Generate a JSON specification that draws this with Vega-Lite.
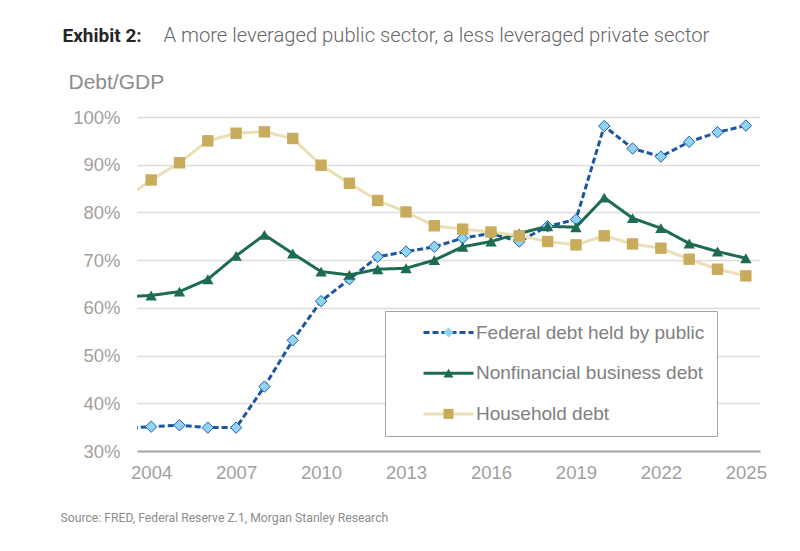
{
  "$schema": "https://vega.github.io/schema/vega-lite/v6.json",
  "width": 623,
  "height": 334,
  "autosize": {"type": "none"},
  "padding": {"left": 137, "top": 117, "right": 40, "bottom": 100},
  "background": "white",
  "config": {"view": {"stroke": null}, "font": "Liberation Sans"},
  "data": {
    "values": [
      {"year": 2003, "series": "Federal debt held by public", "value": 34.7},
      {"year": 2004, "series": "Federal debt held by public", "value": 35.1},
      {"year": 2005, "series": "Federal debt held by public", "value": 35.4},
      {"year": 2006, "series": "Federal debt held by public", "value": 34.9},
      {"year": 2007, "series": "Federal debt held by public", "value": 34.9},
      {"year": 2008, "series": "Federal debt held by public", "value": 43.5},
      {"year": 2009, "series": "Federal debt held by public", "value": 53.2},
      {"year": 2010, "series": "Federal debt held by public", "value": 61.4},
      {"year": 2011, "series": "Federal debt held by public", "value": 66.0},
      {"year": 2012, "series": "Federal debt held by public", "value": 70.7},
      {"year": 2013, "series": "Federal debt held by public", "value": 71.8},
      {"year": 2014, "series": "Federal debt held by public", "value": 72.8},
      {"year": 2015, "series": "Federal debt held by public", "value": 74.6},
      {"year": 2016, "series": "Federal debt held by public", "value": 75.6},
      {"year": 2017, "series": "Federal debt held by public", "value": 73.9},
      {"year": 2018, "series": "Federal debt held by public", "value": 77.1},
      {"year": 2019, "series": "Federal debt held by public", "value": 78.5},
      {"year": 2020, "series": "Federal debt held by public", "value": 98.1},
      {"year": 2021, "series": "Federal debt held by public", "value": 93.4},
      {"year": 2022, "series": "Federal debt held by public", "value": 91.7},
      {"year": 2023, "series": "Federal debt held by public", "value": 94.8},
      {"year": 2024, "series": "Federal debt held by public", "value": 96.8},
      {"year": 2025, "series": "Federal debt held by public", "value": 98.2},
      {"year": 2003, "series": "Nonfinancial business debt", "value": 62.3},
      {"year": 2004, "series": "Nonfinancial business debt", "value": 62.6},
      {"year": 2005, "series": "Nonfinancial business debt", "value": 63.4},
      {"year": 2006, "series": "Nonfinancial business debt", "value": 66.0},
      {"year": 2007, "series": "Nonfinancial business debt", "value": 70.9},
      {"year": 2008, "series": "Nonfinancial business debt", "value": 75.3},
      {"year": 2009, "series": "Nonfinancial business debt", "value": 71.4},
      {"year": 2010, "series": "Nonfinancial business debt", "value": 67.6},
      {"year": 2011, "series": "Nonfinancial business debt", "value": 66.9},
      {"year": 2012, "series": "Nonfinancial business debt", "value": 68.1},
      {"year": 2013, "series": "Nonfinancial business debt", "value": 68.3},
      {"year": 2014, "series": "Nonfinancial business debt", "value": 70.0},
      {"year": 2015, "series": "Nonfinancial business debt", "value": 72.8},
      {"year": 2016, "series": "Nonfinancial business debt", "value": 73.9},
      {"year": 2017, "series": "Nonfinancial business debt", "value": 75.6},
      {"year": 2018, "series": "Nonfinancial business debt", "value": 77.1},
      {"year": 2019, "series": "Nonfinancial business debt", "value": 76.9},
      {"year": 2020, "series": "Nonfinancial business debt", "value": 83.1},
      {"year": 2021, "series": "Nonfinancial business debt", "value": 78.8},
      {"year": 2022, "series": "Nonfinancial business debt", "value": 76.7},
      {"year": 2023, "series": "Nonfinancial business debt", "value": 73.5},
      {"year": 2024, "series": "Nonfinancial business debt", "value": 71.8},
      {"year": 2025, "series": "Nonfinancial business debt", "value": 70.4},
      {"year": 2003, "series": "Household debt", "value": 82.6},
      {"year": 2004, "series": "Household debt", "value": 86.8},
      {"year": 2005, "series": "Household debt", "value": 90.4},
      {"year": 2006, "series": "Household debt", "value": 95.0},
      {"year": 2007, "series": "Household debt", "value": 96.6},
      {"year": 2008, "series": "Household debt", "value": 96.9},
      {"year": 2009, "series": "Household debt", "value": 95.5},
      {"year": 2010, "series": "Household debt", "value": 89.9},
      {"year": 2011, "series": "Household debt", "value": 86.1},
      {"year": 2012, "series": "Household debt", "value": 82.5},
      {"year": 2013, "series": "Household debt", "value": 80.1},
      {"year": 2014, "series": "Household debt", "value": 77.2},
      {"year": 2015, "series": "Household debt", "value": 76.5},
      {"year": 2016, "series": "Household debt", "value": 75.9},
      {"year": 2017, "series": "Household debt", "value": 75.1},
      {"year": 2018, "series": "Household debt", "value": 73.9},
      {"year": 2019, "series": "Household debt", "value": 73.2},
      {"year": 2020, "series": "Household debt", "value": 75.1},
      {"year": 2021, "series": "Household debt", "value": 73.4},
      {"year": 2022, "series": "Household debt", "value": 72.5},
      {"year": 2023, "series": "Household debt", "value": 70.2},
      {"year": 2024, "series": "Household debt", "value": 68.1},
      {"year": 2025, "series": "Household debt", "value": 66.7}
    ]
  },
  "layer": [
    {
      "mark": {"type": "line", "clip": true, "strokeWidth": 3, "strokeCap": "butt"},
      "encoding": {
        "x": {
          "field": "year",
          "type": "quantitative",
          "scale": {"domain": [2003.5, 2025.5], "nice": false, "zero": false},
          "axis": {
            "values": [2004, 2007, 2010, 2013, 2016, 2019, 2022, 2025],
            "format": "d",
            "grid": false,
            "ticks": false,
            "tickSize": 0,
            "domainColor": "#a6a6a6",
            "domainWidth": 2,
            "labelFontSize": 18.5,
            "labelColor": "#a0a0a0",
            "labelPadding": 12,
            "labelFlush": false,
            "title": "Source: FRED, Federal Reserve Z.1, Morgan Stanley Research",
            "titleX": -77,
            "titleY": 66,
            "titleAlign": "left",
            "titleBaseline": "middle",
            "titleFont": "Roboto",
            "titleFontSize": 12.2,
            "titleFontWeight": "normal",
            "titleColor": "#8c8c8c"
          }
        },
        "y": {
          "field": "value",
          "type": "quantitative",
          "scale": {"domain": [30, 100], "nice": false, "zero": false},
          "axis": {
            "values": [30, 40, 50, 60, 70, 80, 90, 100],
            "labelExpr": "datum.value + '%'",
            "domain": false,
            "ticks": false,
            "tickSize": 0,
            "gridColor": "#dcdcdc",
            "gridWidth": 1.5,
            "labelFontSize": 18.5,
            "labelColor": "#a0a0a0",
            "labelPadding": 17,
            "title": "Debt/GDP",
            "titleX": -69,
            "titleY": -35,
            "titleAngle": 0,
            "titleAlign": "left",
            "titleBaseline": "middle",
            "titleFontSize": 21,
            "titleFontWeight": "normal",
            "titleColor": "#8c8c8c"
          }
        },
        "stroke": {
          "field": "series",
          "type": "nominal",
          "scale": {
            "domain": ["Federal debt held by public", "Nonfinancial business debt", "Household debt"],
            "range": ["#1b56a0", "#1d6b50", "#ebdfb5"]
          },
          "legend": {
            "orient": "none",
            "legendX": 248,
            "legendY": 194,
            "direction": "vertical",
            "title": null,
            "padding": 12,
            "strokeColor": "#a6a6a6",
            "fillColor": "white",
            "symbolType": "M-5,0H5",
            "symbolSize": 100,
            "symbolStrokeWidth": 3,
            "symbolOffset": 42,
            "labelOffset": 18,
            "labelLimit": 400,
            "labelFontSize": 19,
            "labelColor": "#808080",
            "rowPadding": 20.7,
            "zindex": 0
          }
        },
        "strokeDash": {
          "field": "series",
          "type": "nominal",
          "scale": {
            "domain": ["Federal debt held by public", "Nonfinancial business debt", "Household debt"],
            "range": [[6, 3], [1, 0], [1, 0]]
          },
          "legend": {
            "orient": "none",
            "legendX": 248,
            "legendY": 194,
            "direction": "vertical",
            "title": null,
            "padding": 12,
            "strokeColor": "#a6a6a6",
            "fillColor": "white",
            "symbolType": "M-5,0H5",
            "symbolSize": 100,
            "symbolStrokeWidth": 3,
            "symbolOffset": 42,
            "labelOffset": 18,
            "labelLimit": 400,
            "labelFontSize": 19,
            "labelColor": "#808080",
            "rowPadding": 20.7,
            "zindex": 0
          }
        }
      }
    },
    {
      "mark": {"type": "point", "filled": true, "clip": true, "opacity": 1, "size": 130, "strokeWidth": 1},
      "encoding": {
        "x": {
          "field": "year",
          "type": "quantitative",
          "scale": {"domain": [2003.5, 2025.5], "nice": false, "zero": false},
          "axis": {
            "orient": "top",
            "labels": false,
            "ticks": false,
            "domain": false,
            "grid": false,
            "title": "A more leveraged public sector, a less leveraged private sector",
            "titleX": 26,
            "titleY": -82,
            "titleAlign": "left",
            "titleBaseline": "middle",
            "titleFont": "Roboto",
            "titleFontSize": 20.2,
            "titleFontWeight": 300,
            "titleColor": "#666666"
          }
        },
        "y": {
          "field": "value",
          "type": "quantitative",
          "scale": {"domain": [30, 100], "nice": false, "zero": false},
          "axis": {
            "orient": "right",
            "labels": false,
            "ticks": false,
            "domain": false,
            "grid": false,
            "title": "Exhibit 2:",
            "titleX": -698,
            "titleY": -82,
            "titleAngle": 0,
            "titleAlign": "left",
            "titleBaseline": "middle",
            "titleFont": "Roboto",
            "titleFontSize": 19,
            "titleFontWeight": "bold",
            "titleColor": "#262626"
          }
        },
        "shape": {
          "field": "series",
          "type": "nominal",
          "sort": {"field": "value", "op": "min", "order": "ascending"},
          "scale": {"range": ["diamond", "triangle-up", "square"]},
          "legend": {
            "orient": "none",
            "legendX": 248,
            "legendY": 194,
            "direction": "vertical",
            "title": null,
            "padding": 12,
            "symbolSize": 100,
            "symbolOffset": 42,
            "labelOffset": 18,
            "labelLimit": 400,
            "labelFontSize": 19,
            "labelOpacity": 0,
            "rowPadding": 20.7,
            "zindex": 1
          }
        },
        "fill": {
          "field": "series",
          "type": "nominal",
          "sort": {"field": "value", "op": "min", "order": "ascending"},
          "scale": {"range": ["#92d2f3", "#1d6b50", "#c9ab5c"]},
          "legend": {
            "orient": "none",
            "legendX": 248,
            "legendY": 194,
            "direction": "vertical",
            "title": null,
            "padding": 12,
            "symbolSize": 100,
            "symbolOffset": 42,
            "labelOffset": 18,
            "labelLimit": 400,
            "labelFontSize": 19,
            "labelOpacity": 0,
            "rowPadding": 20.7,
            "zindex": 1
          }
        },
        "stroke": {
          "condition": {"test": "datum.series === 'Federal debt held by public'", "value": "#1e5fae"},
          "value": "transparent"
        }
      }
    }
  ],
  "resolve": {"axis": {"x": "independent", "y": "independent"}}
}
